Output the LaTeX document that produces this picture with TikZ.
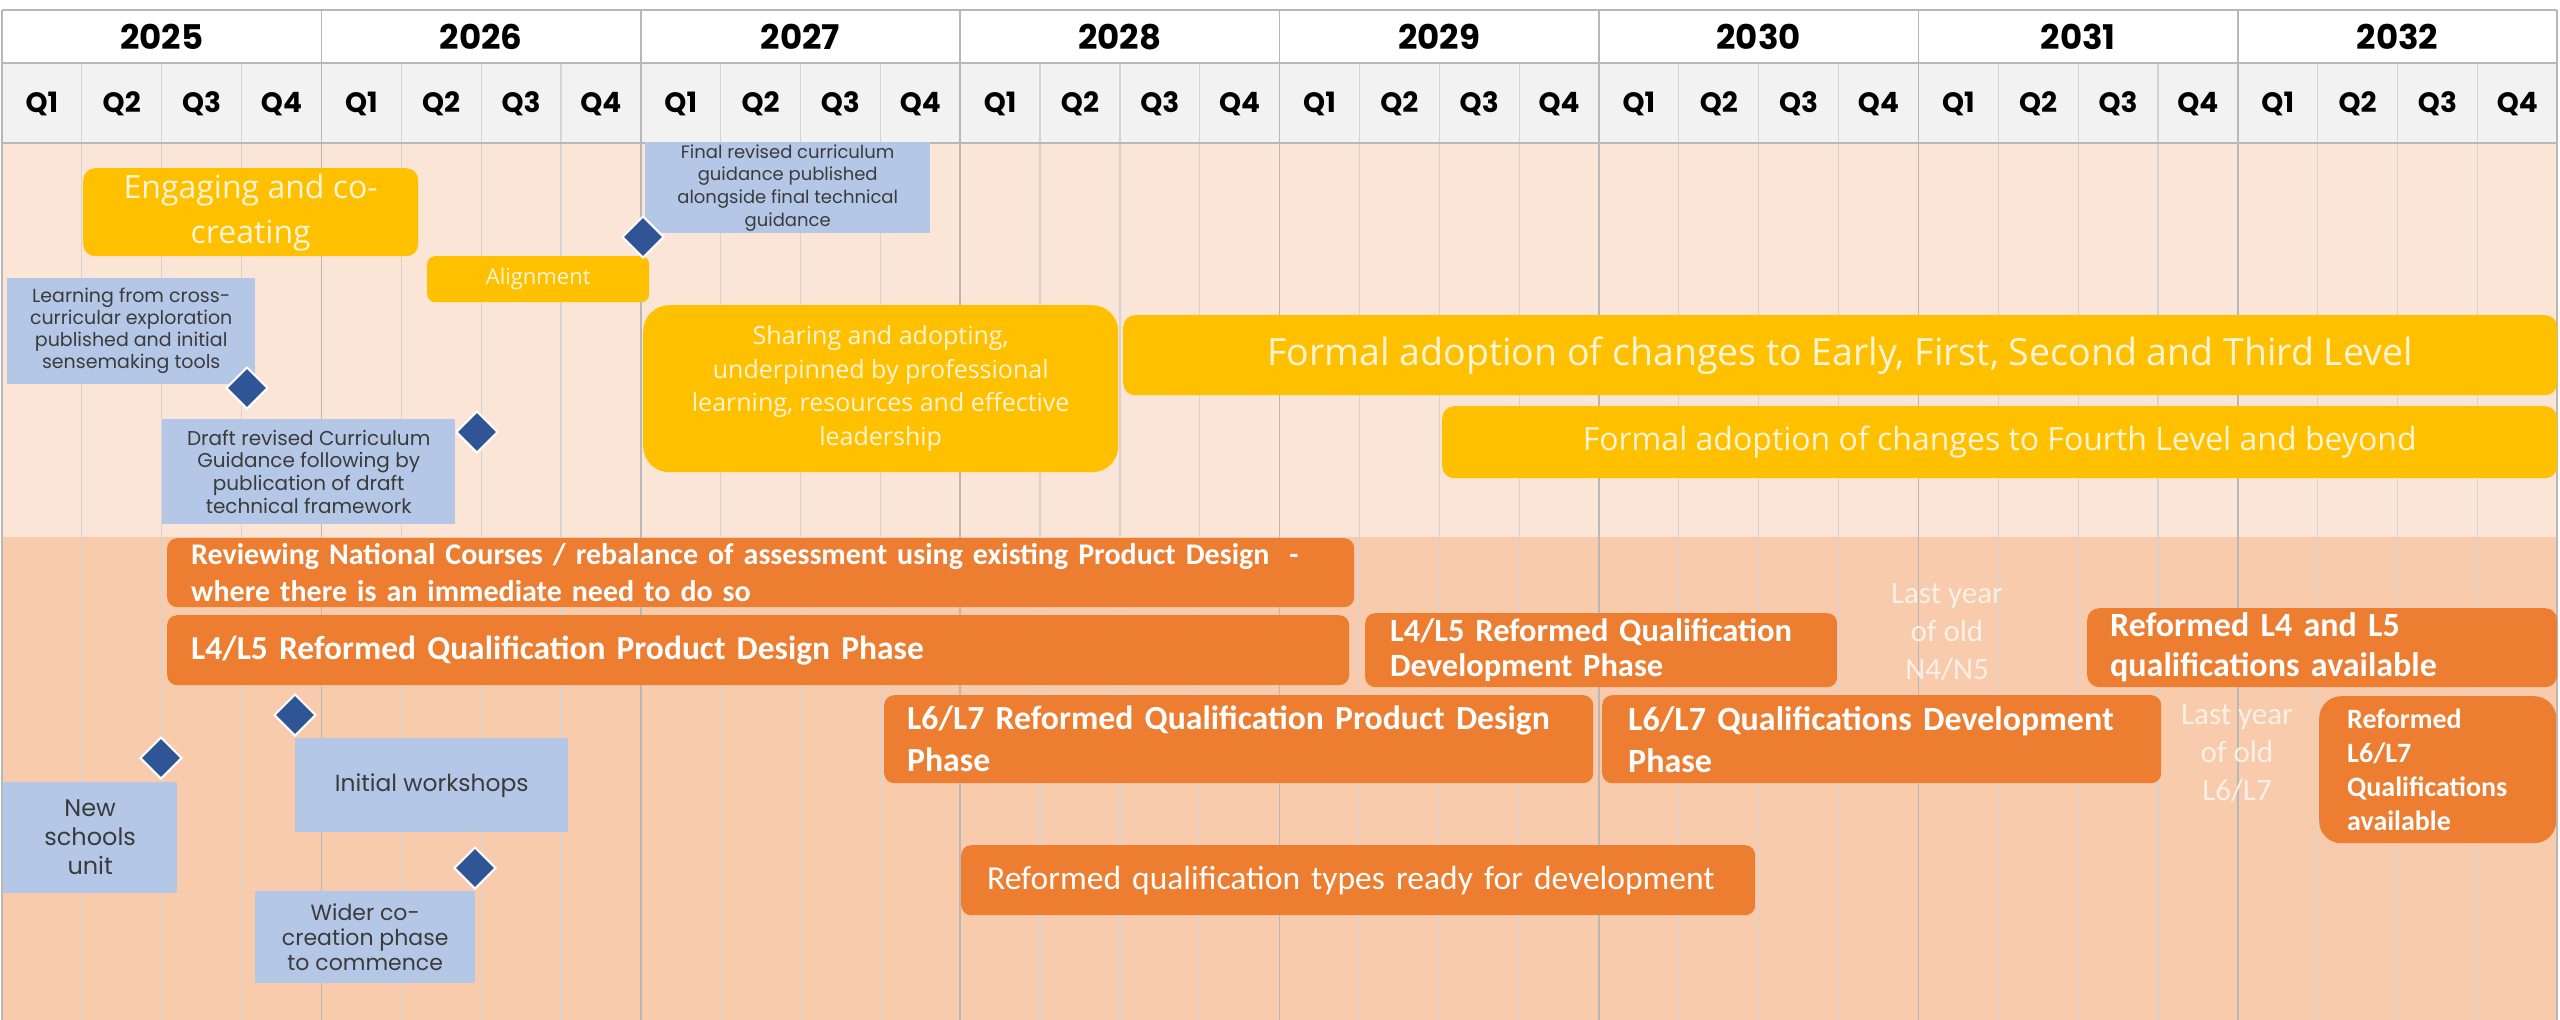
\documentclass[tikz,border=0pt]{standalone}
\usepackage{fontspec}
\setmainfont{Carlito}
\newfontfamily\gothic{Poppins}
\newfontfamily\segoe{Open Sans}
\usetikzlibrary{shapes.geometric}
\definecolor{ylw}{HTML}{FFC000}
\definecolor{org}{HTML}{ED7D31}
\definecolor{blu}{HTML}{B4C7E7}
\definecolor{dia}{HTML}{2F5597}
\definecolor{lpink}{HTML}{FBE5D6}
\definecolor{peach}{HTML}{F8CBAD}
\definecolor{hdr}{HTML}{F2F2F2}
\definecolor{gridc}{HTML}{D4D4D4}
\definecolor{yrline}{HTML}{B8B8B8}
\definecolor{btext}{HTML}{3B3B3B}
\definecolor{ytext}{HTML}{FFF4D6}
\definecolor{ghost}{HTML}{FEF0E6}
\begin{document}
\begin{tikzpicture}[x=1pt,y=-1pt,
  ybox/.style={fill=ylw, text=ytext, align=center, inner sep=0pt, anchor=north west},
  obox/.style={fill=org, text=white, align=left, anchor=north west, inner ysep=0pt},
  bbox/.style={fill=blu, text=btext, align=center, inner sep=0pt, anchor=north west},
  ms/.style={diamond, fill=dia, draw=white, line width=2pt, minimum width=42pt, minimum height=42pt, inner sep=0pt},
  yrlab/.style={font={\gothic\bfseries\fontsize{34}{40}\selectfont}, text=black},
  qlab/.style={font={\gothic\bfseries\fontsize{28}{32}\selectfont}, text=black},
  ghosttxt/.style={text=ghost, align=center, font={\fontsize{31}{38}\selectfont}}]
\useasboundingbox (0,0) rectangle (2560,1020);
% backgrounds
\fill[white] (0,0) rectangle (2560,1020);
\fill[hdr] (2,63) rectangle (2557,143);
\fill[lpink] (2,143) rectangle (2557,537);
\fill[peach] (2,537) rectangle (2557,1020);
% grid
\foreach \k in {1,...,31}{
  \draw[gridc, line width=1.2pt] ({2+79.85*\k},63) -- ({2+79.85*\k},1020);
}
\foreach \k in {4,8,...,28}{
  \draw[yrline, line width=1.6pt] ({2+79.85*\k},10) -- ({2+79.85*\k},1020);
}
\draw[yrline, line width=1.6pt] (2,10) -- (2557,10);
\draw[yrline, line width=1.6pt] (2,63) -- (2557,63);
\draw[yrline, line width=1.6pt] (2,143) -- (2557,143);
\draw[yrline, line width=1.6pt] (2,10) -- (2,1020);
\draw[yrline, line width=1.6pt] (2557,10) -- (2557,1020);
% header labels
\foreach \y [count=\i from 0] in {2025,2026,2027,2028,2029,2030,2031,2032}{
  \node[yrlab] (yr\y) at ({2+319.4*\i+159.7},37) {\y};
}
\foreach \k in {0,...,31}{
  \pgfmathtruncatemacro{\qq}{mod(\k,4)+1}
  \node[qlab] (q\k) at ({2+79.85*(\k+0.5)},104) {Q\qq};
}
% yellow boxes
\node[ybox, rounded corners=12pt, minimum width=335pt, minimum height=88pt,
  font={\segoe\fontsize{32}{45}\selectfont}] (engage) at (83,168) {Engaging and co-\\creating};
\node[ybox, rounded corners=8pt, minimum width=222pt, minimum height=46pt,
  font={\segoe\fontsize{22}{28}\selectfont}] (align) at (427,256) {Alignment};
\node[ybox, rounded corners=26pt, minimum width=475pt, minimum height=167pt,
  font={\segoe\fontsize{25}{33.5}\selectfont}] (share) at (643,305) {Sharing and adopting,\\underpinned by professional\\learning, resources and effective\\leadership};
\node[ybox, rounded corners=12pt, minimum width=1434pt, minimum height=80pt,
  font={\segoe\fontsize{37.5}{44}\selectfont}] (formal1) at (1123,315) {Formal adoption of changes to Early, First, Second and Third Level};
\node[ybox, rounded corners=12pt, minimum width=1115pt, minimum height=72pt,
  font={\segoe\fontsize{32}{38}\selectfont}] (formal2) at (1442,406) {Formal adoption of changes to Fourth Level and beyond};
% blue boxes
\node[bbox, minimum width=285pt, minimum height=91pt,
  font={\gothic\fontsize{18}{22.7}\selectfont}] (final) at (645,142) {Final revised curriculum\\guidance published\\alongside final technical\\guidance};
\node[bbox, minimum width=248pt, minimum height=106pt,
  font={\gothic\fontsize{19}{22}\selectfont}] (learn) at (7,278) {Learning from cross-\\curricular exploration\\published and initial\\sensemaking tools};
\node[bbox, minimum width=293pt, minimum height=105pt,
  font={\gothic\fontsize{20}{22.7}\selectfont}] (draft) at (162,419) {Draft revised Curriculum\\Guidance following by\\publication of draft\\technical framework};
\node[bbox, minimum width=174pt, minimum height=111pt,
  font={\gothic\fontsize{24}{29}\selectfont}] (newsch) at (3,782) {New\\schools\\unit};
\node[bbox, minimum width=273pt, minimum height=94pt,
  font={\gothic\fontsize{23.4}{28}\selectfont}] (initial) at (295,738) {Initial workshops};
\node[bbox, minimum width=220pt, minimum height=92pt,
  font={\gothic\fontsize{22}{25}\selectfont}] (wider) at (255,891) {Wider co-\\creation phase\\to commence};
% orange boxes
\node[obox, rounded corners=10pt, inner xsep=24pt, text width=1139pt, minimum height=69pt,
  font={\bfseries\fontsize{30}{37}\selectfont}] (review) at (167,538) {Reviewing National Courses / rebalance of assessment using existing Product Design ~-\\where there is an immediate need to do so};
\node[obox, rounded corners=10pt, inner xsep=24pt, text width=1134pt, minimum height=70pt,
  font={\bfseries\fontsize{33.5}{38}\selectfont}] (l45pd) at (167,615) {L4/L5 Reformed Qualification Product Design Phase};
\node[obox, rounded corners=10pt, inner xsep=25pt, text width=422pt, minimum height=74pt,
  font={\bfseries\fontsize{32.5}{35}\selectfont}] (l45dev) at (1365,613) {L4/L5 Reformed Qualification\\Development Phase};
\node[obox, rounded corners=10pt, inner xsep=23pt, text width=663pt, minimum height=88pt,
  font={\bfseries\fontsize{33.7}{42}\selectfont}] (l67pd) at (884,695) {L6/L7 Reformed Qualification Product Design\\Phase};
\node[obox, rounded corners=10pt, inner xsep=26pt, text width=507pt, minimum height=88pt,
  font={\bfseries\fontsize{34}{42}\selectfont}] (l67qd) at (1602,695) {L6/L7 Qualifications Development\\Phase};
\node[obox, rounded corners=10pt, inner xsep=26pt, text width=742pt, minimum height=70pt,
  font={\fontsize{33.5}{38}\selectfont}] (types) at (961,845) {Reformed qualification types ready for development};
\node[obox, rounded corners=12pt, inner xsep=23pt, text width=424pt, minimum height=79pt,
  font={\bfseries\fontsize{34}{40}\selectfont}] (refl45) at (2087,608) {Reformed L4 and L5\\qualifications available};
\node[obox, rounded corners=22pt, inner xsep=28pt, text width=181pt, minimum height=147pt,
  font={\bfseries\fontsize{28}{34}\selectfont}] (refl67) at (2319,696) {Reformed\\L6/L7\\Qualifications\\available};
% ghost texts
\node[ghosttxt] (lastn) at (1947,632) {Last year\\of old\\N4/N5};
\node[ghosttxt] (lastl) at (2237,753) {Last year\\of old\\L6/L7};
% milestones
\node[ms] (m1) at (643,237) {};
\node[ms] (m2) at (247,388) {};
\node[ms] (m3) at (477,432) {};
\node[ms] (m4) at (295,715) {};
\node[ms] (m5) at (161,758) {};
\node[ms] (m6) at (475,868) {};
\end{tikzpicture}
\end{document}
